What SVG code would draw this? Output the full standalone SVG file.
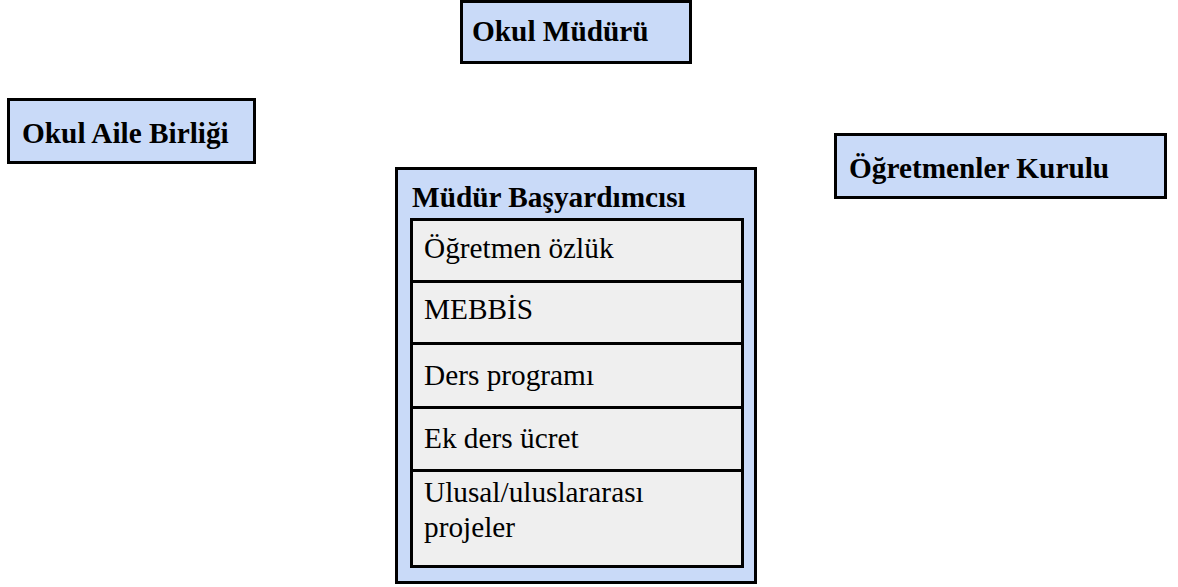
<svg xmlns="http://www.w3.org/2000/svg" width="1178" height="587" viewBox="0 0 1178 587">
<style>
.box{fill:#c9daf8;stroke:#000;stroke-width:3}
.item{fill:#efefef;stroke:#000;stroke-width:3}
.b{font-family:'Liberation Serif',serif;font-weight:bold;font-size:29.3px;fill:#000}
.r{font-family:'Liberation Serif',serif;font-size:29.3px;fill:#000}
</style>
<rect width="1178" height="587" fill="#fff"/>
<g id="okul-muduru">
<rect class="box" x="461.5" y="1.5" width="229" height="61"/>
<text class="b" x="472" y="41">Okul Müdürü</text>
</g>
<g id="okul-aile-birligi">
<rect class="box" x="8.5" y="99.5" width="246" height="63"/>
<text class="b" x="22" y="143">Okul Aile Birliği</text>
</g>
<g id="ogretmenler-kurulu">
<rect class="box" x="835.5" y="134.5" width="330" height="63"/>
<text class="b" x="849" y="178">Öğretmenler Kurulu</text>
</g>
<g id="mudur-basyardimcisi">
<rect class="box" x="396.5" y="168.5" width="359" height="414"/>
<text class="b" x="412" y="207">Müdür Başyardımcısı</text>
<g id="item-ozluk">
<rect class="item" x="411.5" y="219.5" width="331" height="62"/>
<text class="r" x="424" y="258">Öğretmen özlük</text>
</g>
<g id="item-mebbis">
<rect class="item" x="411.5" y="281.5" width="331" height="62"/>
<text class="r" x="424" y="319">MEBBİS</text>
</g>
<g id="item-ders">
<rect class="item" x="411.5" y="343.5" width="331" height="64"/>
<text class="r" x="424" y="385">Ders programı</text>
</g>
<g id="item-ekders">
<rect class="item" x="411.5" y="407.5" width="331" height="63"/>
<text class="r" x="424" y="448">Ek ders ücret</text>
</g>
<g id="item-projeler">
<rect class="item" x="411.5" y="470.5" width="331" height="96"/>
<text class="r" x="424" y="502">Ulusal/uluslararası</text>
<text class="r" x="424" y="537">projeler</text>
</g>
</g>
<g id="connectors"></g>
</svg>
